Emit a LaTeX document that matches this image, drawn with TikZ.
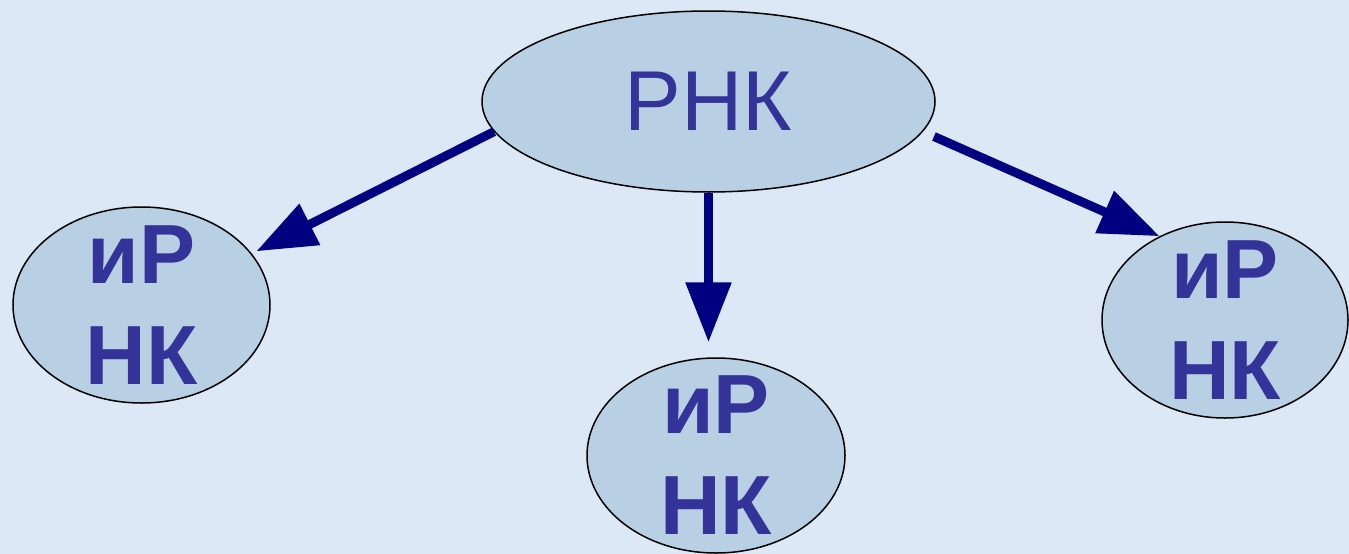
\documentclass[tikz,border=0pt]{standalone}
\usepackage{fontspec}
\setmainfont{Liberation Sans}
\usetikzlibrary{shapes.geometric,arrows.meta}
\definecolor{bgblue}{HTML}{DCE8F6}
\definecolor{ovalfill}{HTML}{B9D0E4}
\definecolor{txtblue}{HTML}{333399}
\definecolor{arrownavy}{HTML}{000080}

\begin{document}
\begin{tikzpicture}[x=1pt,y=-1pt,
    oval/.style={ellipse,draw=black,line width=1.5pt,fill=ovalfill,inner sep=0pt,text=txtblue},
    irtext/.style={align=center,inner sep=0pt,text=txtblue,font=\fontsize{84}{101}\selectfont\bfseries},
    link/.style={draw=arrownavy,line width=9pt,-{Triangle[length=60pt,width=44pt]}}]
        \fill[bgblue] (0,0) rectangle (1349,554);
        \useasboundingbox (0,0) rectangle (1349,554);
        % parent
        \node[oval,minimum width=453pt,minimum height=181pt,font=\fontsize{85}{102}\selectfont] (rnk) at (708.5,101.5) {РНК};
        % children
        \node[oval,minimum width=257pt,minimum height=196pt,label={[irtext]center:иР\\НК}] (ir1) at (141.5,305) {};
        \node[oval,minimum width=258pt,minimum height=195pt,label={[irtext]center:иР\\НК}] (ir2) at (716,455.5) {};
        \node[oval,minimum width=246pt,minimum height=196pt,label={[irtext]center:иР\\НК}] (ir3) at (1225,320) {};
        % arrows
        \draw[link,shorten >=5pt] (rnk.188) -- (ir1.25);
        \draw[link,shorten >=15pt] (rnk.south) -- (rnk.south |- ir2.north);
        \draw[link,shorten <=12pt] (rnk.-8) -- (ir3.128);
\end{tikzpicture}
\end{document}
